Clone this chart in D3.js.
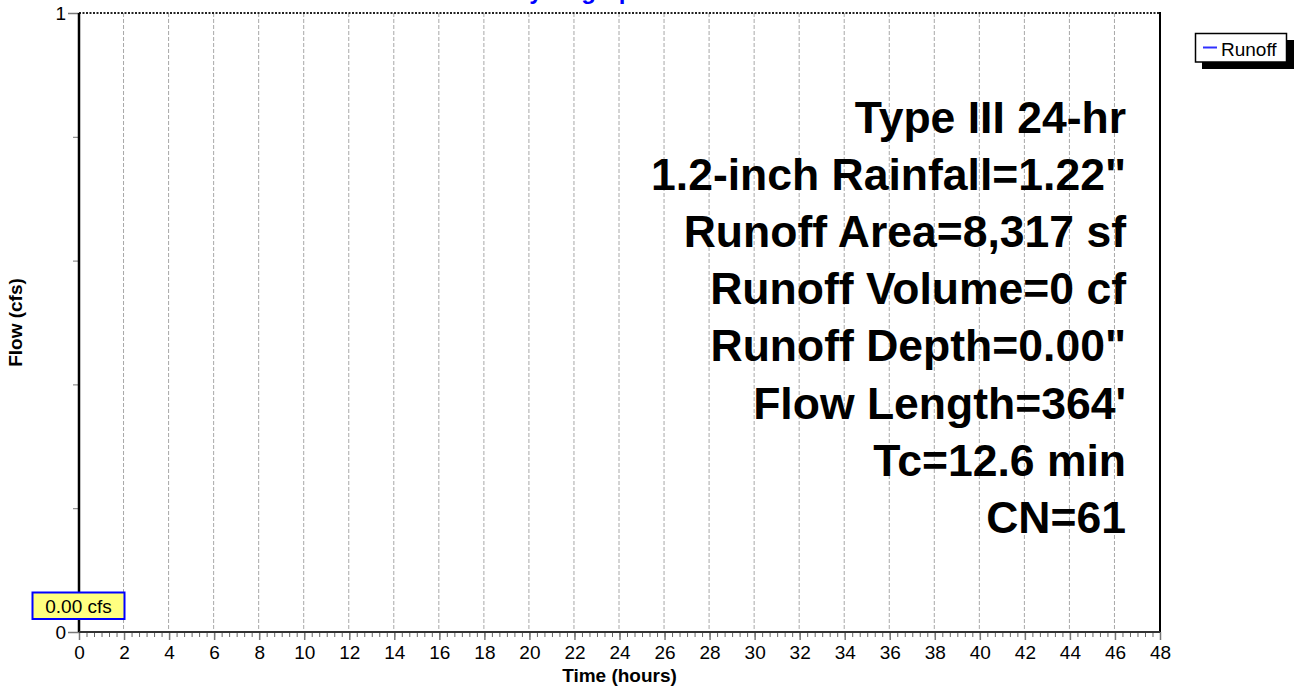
<!DOCTYPE html>
<html><head><meta charset="utf-8">
<script src="https://cdn.jsdelivr.net/npm/d3@7"></script>
<style>
body{margin:0;background:#fff}
svg{display:block}
text{font-family:Arial,"Liberation Sans",sans-serif}
</style>
</head><body>
<svg id="chart" width="1294" height="686"></svg>
<script>
// ---- data ----
const timeHours = [0,2,4,6,8,10,12,14,16,18,20,22,24,26,28,30,32,34,36,38,40,42,44,46,48];
const runoffCfs = [0,0,0,0,0,0,0,0,0,0,0,0,0,0,0,0,0,0,0,0,0,0,0,0,0];
const xTickValues = [0,2,4,6,8,10,12,14,16,18,20,22,24,26,28,30,32,34,36,38,40,42,44,46,48];
const yTickValues = [0,1];
const yMinorTickValues = [0.2,0.4,0.6,0.8];
const annotationLines = [
  "Type III 24-hr",
  "1.2-inch Rainfall=1.22\"",
  "Runoff Area=8,317 sf",
  "Runoff Volume=0 cf",
  "Runoff Depth=0.00\"",
  "Flow Length=364'",
  "Tc=12.6 min",
  "CN=61"
];
const peakLabel = "0.00 cfs";
const chartTitle = "Hydrograph";
const seriesName = "Runoff";
const xTitle = "Time  (hours)";
const yTitle = "Flow  (cfs)";

// ---- layout ----
const L = 79, R = 1160, T = 13, B = 632;
const svg = d3.select("#chart");
const x = d3.scaleLinear().domain([0,48]).range([L,R]);
const y = d3.scaleLinear().domain([0,1]).range([B,T]);

// title (mostly clipped at top)
svg.append("text").attr("x",580).attr("y",-1).attr("text-anchor","middle")
  .attr("font-size",24).attr("font-weight","bold").attr("fill","#0000ff").text(chartTitle);

// vertical dashed grid
svg.append("g").selectAll("line").data(xTickValues.filter(d=>d>0)).join("line")
  .attr("x1",d=>x(d)-0.5).attr("x2",d=>x(d)-0.5).attr("y1",T).attr("y2",B)
  .attr("stroke","#a8a8a8").attr("stroke-width",1).attr("stroke-dasharray","4,2");

// runoff series (all zero, sits under axis)
svg.append("path").datum(timeHours.map((t,i)=>[t,runoffCfs[i]]))
  .attr("fill","none").attr("stroke","#0000ff").attr("stroke-width",1.5)
  .attr("d",d3.line().x(d=>x(d[0])).y(d=>y(d[1])));

// x axis ticks
const minorX = d3.range(0,48.0001,1/3);
const gxMinor = svg.append("g").attr("transform",`translate(0,${B})`)
  .call(d3.axisBottom(x).tickValues(minorX).tickSize(5).tickFormat(""));
gxMinor.select(".domain").remove();
gxMinor.selectAll("line").attr("stroke","#666");
const gx = svg.append("g").attr("transform",`translate(0,${B})`)
  .call(d3.axisBottom(x).tickValues(xTickValues).tickSize(8).tickPadding(6).tickFormat(d3.format("d")));
gx.select(".domain").remove();
gx.selectAll("line").attr("stroke","#777").attr("stroke-width",1.5);
gx.selectAll("text").attr("font-size",19).attr("fill","#000").attr("font-family",'Arial,"Liberation Sans",sans-serif');

// y axis ticks
const gyMinor = svg.append("g").attr("transform",`translate(${L},0)`)
  .call(d3.axisLeft(y).tickValues(yMinorTickValues).tickSize(6).tickFormat(""));
gyMinor.select(".domain").remove();
gyMinor.selectAll("line").attr("stroke","#777");
const gy = svg.append("g").attr("transform",`translate(${L},0)`)
  .call(d3.axisLeft(y).tickValues(yTickValues).tickSize(11).tickPadding(2).tickFormat(d3.format("d")));
gy.select(".domain").remove();
gy.selectAll("line").attr("stroke","#777").attr("stroke-width",1.5);
gy.selectAll("text").attr("font-size",19).attr("fill","#000").attr("font-family",'Arial,"Liberation Sans",sans-serif');

// frame
svg.append("line").attr("x1",L).attr("x2",R).attr("y1",T).attr("y2",T)
  .attr("stroke","#222").attr("stroke-width",2).attr("stroke-dasharray","2,1.5");
svg.append("line").attr("x1",R).attr("x2",R).attr("y1",T-1).attr("y2",B)
  .attr("stroke","#000").attr("stroke-width",2);
svg.append("line").attr("x1",L).attr("x2",L).attr("y1",T).attr("y2",B)
  .attr("stroke","#000").attr("stroke-width",2.5);
svg.append("line").attr("x1",L).attr("x2",R).attr("y1",B).attr("y2",B)
  .attr("stroke","#333").attr("stroke-width",2);

// axis titles
svg.append("text").attr("x",(L+R)/2).attr("y",682).attr("text-anchor","middle")
  .attr("font-size",19).attr("font-weight","bold").text(xTitle);
svg.append("text").attr("transform",`translate(22,${(T+B)/2}) rotate(-90)`).attr("text-anchor","middle")
  .attr("font-size",19).attr("font-weight","bold").text(yTitle);

// annotation block
svg.append("g").selectAll("text").data(annotationLines).join("text")
  .attr("x",1126).attr("y",(d,i)=>133+57.1*i).attr("text-anchor","end")
  .attr("font-size",44.5).attr("font-weight","bold").attr("fill","#000").text(d=>d);

// peak label box
svg.append("rect").attr("x",32.5).attr("y",592.5).attr("width",92).attr("height",26.5)
  .attr("fill","#ffff80").attr("stroke","#0000ff").attr("stroke-width",2);
svg.append("text").attr("x",78.5).attr("y",613).attr("text-anchor","middle")
  .attr("font-size",19).attr("fill","#000").text(peakLabel);

// legend
svg.append("rect").attr("x",1202).attr("y",40).attr("width",92).attr("height",29).attr("fill","#000");
svg.append("rect").attr("x",1195.5).attr("y",33.5).attr("width",91).attr("height",28.5)
  .attr("fill","#fff").attr("stroke","#000").attr("stroke-width",1.5);
svg.append("line").attr("x1",1203).attr("x2",1217).attr("y1",47.5).attr("y2",47.5)
  .attr("stroke","#3030ff").attr("stroke-width",2);
svg.append("text").attr("x",1221).attr("y",56).attr("font-size",19).attr("fill","#000").text(seriesName);
</script>
</body></html>
